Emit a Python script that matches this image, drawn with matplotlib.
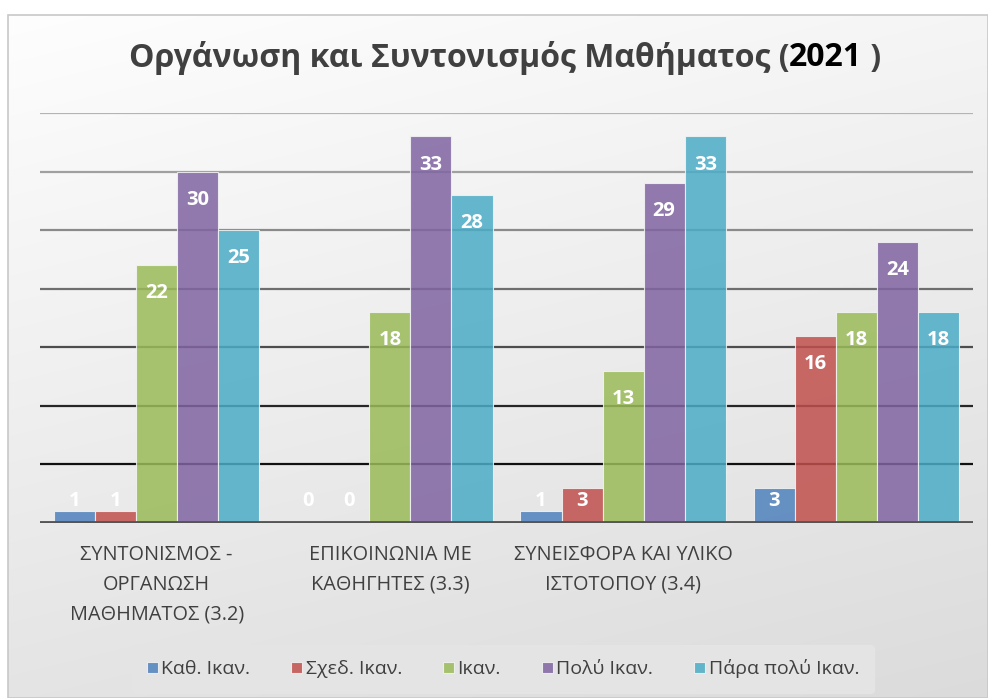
import numpy as np
import matplotlib.pyplot as plt
from matplotlib.patches import Rectangle

plt.rcParams['font.family'] = ['Open Sans', 'DejaVu Sans']

categories = ['ΣΥΝΤΟΝΙΣΜΟΣ -\nΟΡΓΑΝΩΣΗ\nΜΑΘΗΜΑΤΟΣ (3.2)',
              'ΕΠΙΚΟΙΝΩΝΙΑ ΜΕ\nΚΑΘΗΓΗΤΕΣ (3.3)',
              'ΣΥΝΕΙΣΦΟΡΑ ΚΑΙ ΥΛΙΚΟ\nΙΣΤΟΤΟΠΟΥ (3.4)',
              '']
series = ['Καθ. Ικαν.', 'Σχεδ. Ικαν.', 'Ικαν.', 'Πολύ Ικαν.', 'Πάρα πολύ Ικαν.']
kath = [1, 0, 1, 3]
sxed = [1, 0, 3, 16]
ikan = [22, 18, 13, 18]
poly = [30, 33, 29, 24]
para = [25, 28, 33, 18]
values = [kath, sxed, ikan, poly, para]
colors = ['#4f81bd', '#c0504d', '#9bbb59', '#8064a2', '#4bacc6']

W, H = 988, 698
fig = plt.figure(figsize=(W / 100, H / 100), dpi=100)
fig.patch.set_facecolor('white')

# chart area background with soft gradient
bg = fig.add_axes([0, 0, 1, 1], zorder=-1)
bg.set_xlim(0, W)
bg.set_ylim(H, 0)
bg.axis('off')
gx, gy = np.meshgrid(np.linspace(0, 1, 200), np.linspace(0, 1, 200))
v = 0.995 - 0.10 * gy - 0.035 * gx
grad = np.dstack([v, v, v])
bg.imshow(grad, extent=[8, W, H, 15], aspect='auto', interpolation='bilinear')
bg.add_patch(Rectangle((8, 15), W - 8, H - 15, fill=False, ec='#c8c8c8', lw=1.2))

ax = fig.add_axes([40 / W, 1 - 523 / H, (973 - 40) / W, (523 - 113) / H])
ax.patch.set_alpha(0)
ax.set_xlim(-0.5, len(categories) - 0.5)
ax.set_ylim(0, 35)

grid_cols = ['#111111', '#262626', '#4d4d4d', '#6e6e6e', '#8a8a8a', '#a0a0a0', '#b4b4b4']
for g, c in zip(range(5, 40, 5), grid_cols):
    ax.axhline(g, color=c, lw=1.6, zorder=1)
ax.axhline(0, color='#555555', lw=3.5, zorder=3)

x = np.arange(len(categories))
bw = 0.176
for i, (vals, col) in enumerate(zip(values, colors)):
    pos = x + (i - 2) * bw
    ax.bar(pos, vals, width=bw, color=col, alpha=0.85, edgecolor='#f4f4f4',
           linewidth=0.8, label=series[i], zorder=2)
    for px, val in zip(pos, vals):
        ax.text(px, max(val - 2.4, 1.9), str(val), ha='center', va='center',
                color='white', fontsize=14.5, fontweight='bold', zorder=4)

ax.set_xticks(x)
ax.set_xticklabels(categories, fontsize=14.3, color='#404040', linespacing=1.65,
                   va='top')
ax.tick_params(axis='x', length=0, pad=16)
ax.set_yticks([])
for s in ax.spines.values():
    s.set_visible(False)

# title in pieces: the year is black, the rest dark gray
fig.canvas.draw()
r = fig.canvas.get_renderer()
parts = [('Οργάνωση και Συντονισμός Μαθήματος (', '#404040'),
         ('2021', 'black'), (' )', '#404040')]
tw = []
for s, c in parts:
    t = fig.text(0, 0, s, fontsize=23, fontweight='bold')
    tw.append(t.get_window_extent(r).width)
    t.remove()
xpos = 505 - sum(tw) / 2
for (s, c), w in zip(parts, tw):
    fig.text(xpos / W, 1 - 58 / H, s, fontsize=23, fontweight='bold', color=c,
             va='center', ha='left')
    xpos += w

leg = fig.legend(loc='center', bbox_to_anchor=(503 / W, 1 - 669 / H), ncol=5,
                 fontsize=14, frameon=True, handlelength=0.55, handleheight=0.55,
                 handletextpad=0.2, columnspacing=2.1, borderpad=0.75,
                 borderaxespad=0)
leg.get_frame().set_facecolor('#e4e4e4')
leg.get_frame().set_edgecolor('#e4e4e4')
leg.get_frame().set_alpha(1)
for t in leg.get_texts():
    t.set_color('#404040')

fig.savefig('out.png', dpi=100)
